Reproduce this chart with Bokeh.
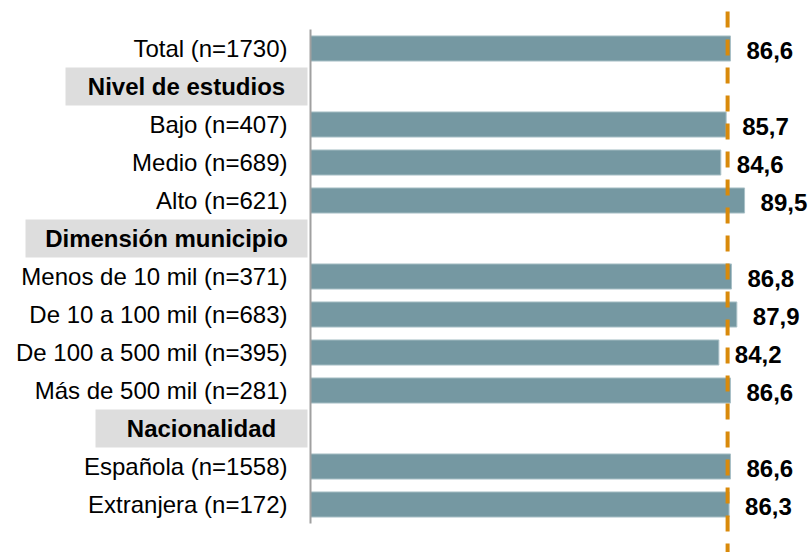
from bokeh.plotting import figure
from bokeh.models import Range1d, ColumnDataSource
from bokeh.core.properties import value
from bokeh.embed import file_html
from bokeh.resources import INLINE

# ---------------- data ----------------
row_labels = [
    "Total (n=1730)",
    "Nivel de estudios",
    "Bajo (n=407)",
    "Medio (n=689)",
    "Alto (n=621)",
    "Dimensión municipio",
    "Menos de 10 mil (n=371)",
    "De 10 a 100 mil (n=683)",
    "De 100 a 500 mil (n=395)",
    "Más de 500 mil (n=281)",
    "Nacionalidad",
    "Española (n=1558)",
    "Extranjera (n=172)",
]
group_headers = ["Nivel de estudios", "Dimensión municipio", "Nacionalidad"]
values = [86.6, 85.7, 84.6, 89.5, 86.8, 87.9, 84.2, 86.6, 86.6, 86.3]
reference_value = 86.0

# ---------------- layout / style ----------------
W, H = 808, 552
PX_PER_UNIT = 4.85
ZERO_PX = 310          # x pixel of value 0
ROW_PX = 38
FIRST_ROW_PX = 48      # y pixel of first row centre
header_box_left_px = [65, 25, 95]
header_box_right_px = 307

BAR_COLOR = "#7598A2"
REF_COLOR = "#D98A0B"
HEADER_BG = "#DDDDDD"
FONT = "Liberation Sans"


def px_to_x(px):
    return (px - ZERO_PX) / PX_PER_UNIT


x_start = px_to_x(0)
x_end = px_to_x(W)
y_top = (0 - FIRST_ROW_PX) / ROW_PX
y_bottom = (H - FIRST_ROW_PX) / ROW_PX

header_rows = [row_labels.index(h) for h in group_headers]
item_rows = [i for i, l in enumerate(row_labels) if l not in group_headers]
item_labels = [row_labels[i] for i in item_rows]
value_texts = [f"{v:.1f}".replace(".", ",") for v in values]

p = figure(width=W, height=H, x_range=Range1d(x_start, x_end),
           y_range=Range1d(y_bottom, y_top), output_backend="svg",
           toolbar_location=None, min_border=0)
p.axis.visible = False
p.grid.visible = False
p.outline_line_color = None

# header background boxes
hsrc = ColumnDataSource(dict(
    left=[px_to_x(v) for v in header_box_left_px],
    right=[px_to_x(header_box_right_px)] * len(group_headers),
    top=[r - 0.5 for r in header_rows],
    bottom=[r + 0.5 for r in header_rows],
    cx=[(px_to_x(v) + px_to_x(header_box_right_px)) / 2 for v in header_box_left_px],
    y=header_rows,
    text=group_headers,
))
p.quad(left="left", right="right", top="top", bottom="bottom", source=hsrc,
       fill_color=HEADER_BG, line_color=None)
p.text(x="cx", y="y", text="text", source=hsrc, text_align="center",
       text_baseline="middle", text_font=value(FONT), text_font_size="24px",
       text_font_style="bold", text_color="black")

# bars
bsrc = ColumnDataSource(dict(y=item_rows, v=values, label=item_labels, vt=value_texts))
p.hbar(y="y", left=0, right="v", height=0.66, source=bsrc,
       fill_color=BAR_COLOR, line_color="#A9C0C7", line_width=1)

# axis line
p.segment(x0=[0], y0=[-0.5], x1=[0], y1=[len(row_labels) - 0.5],
          line_color="#A0A0A0", line_width=2)

# reference dashed line
p.segment(x0=[reference_value], y0=[y_top + 11 / ROW_PX], x1=[reference_value],
          y1=[y_bottom + 0.5], line_color=REF_COLOR, line_width=4, line_dash="16 12")

# category labels
p.text(x=0, y="y", text="label", source=bsrc, x_offset=-23, text_align="right",
       text_baseline="middle", text_font=value(FONT), text_font_size="24px",
       text_color="black")

# value labels
p.text(x="v", y="y", text="vt", source=bsrc, x_offset=16, y_offset=2,
       text_align="left", text_baseline="middle", text_font=value(FONT),
       text_font_size="24px", text_font_style="bold", text_color="black")

open("out.html", "w").write(file_html(p, INLINE))
